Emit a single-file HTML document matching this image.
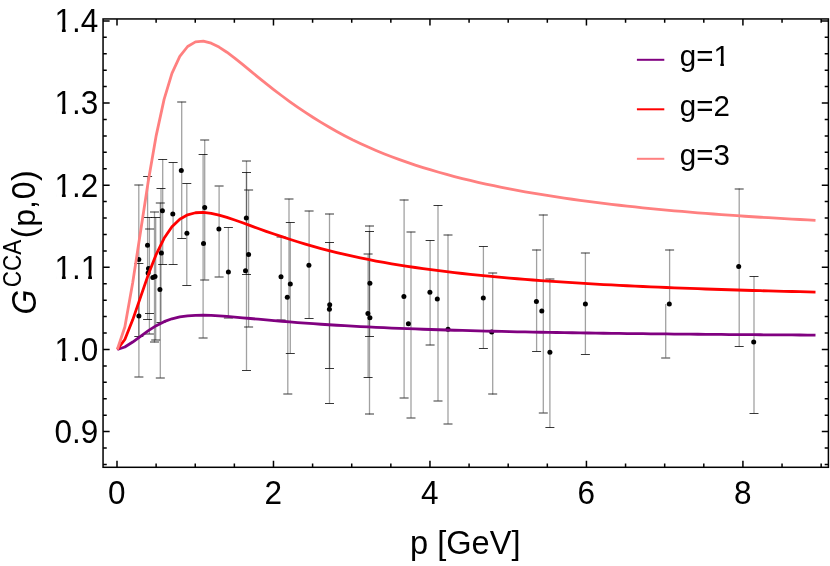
<!DOCTYPE html>
<html><head><meta charset="utf-8"><title>G CCA</title>
<style>
html,body{margin:0;padding:0;background:#fff;}
svg{display:block;}
text{font-family:"Liberation Sans",sans-serif;fill:#000;}
svg{will-change:transform;opacity:0.999;}
</style></head>
<body>
<svg width="830" height="566" viewBox="0 0 830 566">
<rect width="830" height="566" fill="#fff"/>
<g stroke="#000" stroke-width="1" fill="none">
<g stroke-opacity="0.37" stroke-width="1.3"><path d="M138.80,184.80V336.40"/><path d="M138.90,263.40V376.70"/><path d="M147.60,176.50V319.30"/><path d="M149.40,217.40V333.90"/><path d="M154.50,211.70V342.50"/><path d="M155.70,217.40V339.90"/><path d="M160.30,202.80V377.80"/><path d="M161.00,188.30V322.60"/><path d="M162.70,159.30V264.40"/><path d="M173.10,162.40V264.40"/><path d="M181.70,101.70V238.40"/><path d="M186.80,183.50V285.40"/><path d="M203.10,154.50V337.70"/><path d="M204.70,140.00V279.80"/><path d="M219.10,186.50V276.70"/><path d="M228.40,227.30V317.90"/><path d="M246.50,161.00V274.50"/><path d="M246.50,172.60V370.30"/><path d="M248.60,189.90V326.80"/><path d="M281.10,236.90V319.60"/><path d="M289.00,198.80V297.20"/><path d="M287.80,297.20V393.80"/><path d="M290.30,222.50V353.30"/><path d="M309.10,210.80V318.30"/><path d="M329.50,213.70V403.40"/><path d="M329.50,242.60V368.30"/><path d="M369.50,231.50V336.30"/><path d="M368.10,254.50V377.30"/><path d="M369.50,225.50V414.50"/><path d="M404.10,199.50V397.70"/><path d="M411.00,231.70V417.80"/><path d="M430.10,240.20V345.20"/><path d="M438.00,205.30V400.80"/><path d="M448.00,234.60V423.70"/><path d="M483.40,246.40V348.40"/><path d="M492.70,272.80V394.50"/><path d="M536.60,249.50V351.40"/><path d="M543.30,214.60V412.70"/><path d="M549.90,278.80V427.40"/><path d="M585.40,252.80V354.20"/><path d="M669.60,249.50V304.00"/><path d="M665.70,304.00V357.60"/><path d="M739.20,188.60V346.40"/><path d="M754.00,276.30V413.30"/></g>
<path d="M134.30,185.00H143.30M134.40,377.00H143.40M144.90,334.00H153.90M150.00,212.00H159.00M150.00,342.00H159.00M151.20,340.00H160.20M155.80,203.00H164.80M155.80,378.00H164.80M177.20,102.00H186.20M198.60,338.00H207.60M200.20,140.00H209.20M200.20,280.00H209.20M214.60,186.00H223.60M214.60,277.00H223.60M223.90,318.00H232.90M242.00,161.00H251.00M244.10,190.00H253.10M244.10,327.00H253.10M276.60,237.00H285.60M276.60,320.00H285.60M284.50,199.00H293.50M283.30,394.00H292.30M304.60,211.00H313.60M325.00,214.00H334.00M363.60,254.00H372.60M365.00,226.00H374.00M365.00,414.00H374.00M399.60,200.00H408.60M399.60,398.00H408.60M406.50,232.00H415.50M406.50,418.00H415.50M425.60,345.00H434.60M433.50,401.00H442.50M443.50,235.00H452.50M443.50,424.00H452.50M488.20,273.00H497.20M488.20,394.00H497.20M532.10,250.00H541.10M538.80,215.00H547.80M538.80,413.00H547.80M545.40,279.00H554.40M580.90,253.00H589.90M665.10,250.00H674.10M661.20,358.00H670.20M734.70,189.00H743.70M145.10,229.00H154.10" stroke-opacity="0.78"/>
<path d="M134.30,336.50H143.30M134.40,263.50H143.40M143.10,176.50H152.10M143.10,319.50H152.10M151.20,217.50H160.20M156.50,188.50H165.50M156.50,322.50H165.50M158.20,159.50H167.20M158.20,264.50H167.20M168.60,162.50H177.60M168.60,264.50H177.60M177.20,238.50H186.20M182.30,183.50H191.30M182.30,285.50H191.30M198.60,154.50H207.60M223.90,227.50H232.90M242.00,274.50H251.00M242.00,172.50H251.00M242.00,370.50H251.00M285.80,222.50H294.80M285.80,353.50H294.80M304.60,318.50H313.60M325.00,403.50H334.00M325.00,242.50H334.00M325.00,368.50H334.00M365.00,231.50H374.00M365.00,336.50H374.00M363.60,377.50H372.60M425.60,240.50H434.60M433.50,205.50H442.50M478.90,246.50H487.90M478.90,348.50H487.90M532.10,351.50H541.10M545.40,427.50H554.40M580.90,354.50H589.90M734.70,346.50H743.70M749.50,276.50H758.50M749.50,413.50H758.50M143.10,217.50H152.10M145.00,313.50H154.00" stroke-opacity="0.78"/>
</g>
<g fill="#000"><circle cx="138.8" cy="259.5" r="2.5"/><circle cx="138.9" cy="316.1" r="2.5"/><circle cx="147.5" cy="245.2" r="2.5"/><circle cx="148.5" cy="268.5" r="2.5"/><circle cx="148.1" cy="272.9" r="2.5"/><circle cx="152.8" cy="277.4" r="2.5"/><circle cx="155.0" cy="276.4" r="2.5"/><circle cx="159.9" cy="289.6" r="2.5"/><circle cx="161.4" cy="253.1" r="2.5"/><circle cx="162.4" cy="210.7" r="2.5"/><circle cx="172.8" cy="214.1" r="2.5"/><circle cx="181.3" cy="170.6" r="2.5"/><circle cx="186.9" cy="233.3" r="2.5"/><circle cx="204.7" cy="207.5" r="2.5"/><circle cx="203.5" cy="243.5" r="2.5"/><circle cx="218.9" cy="229.1" r="2.5"/><circle cx="228.4" cy="272.1" r="2.5"/><circle cx="246.3" cy="218.1" r="2.5"/><circle cx="248.6" cy="254.6" r="2.5"/><circle cx="245.5" cy="270.7" r="2.5"/><circle cx="281.0" cy="276.7" r="2.5"/><circle cx="290.3" cy="284.1" r="2.5"/><circle cx="287.3" cy="297.2" r="2.5"/><circle cx="308.9" cy="265.2" r="2.5"/><circle cx="329.7" cy="304.7" r="2.5"/><circle cx="329.4" cy="309.2" r="2.5"/><circle cx="369.9" cy="283.2" r="2.5"/><circle cx="367.9" cy="313.6" r="2.5"/><circle cx="369.9" cy="317.7" r="2.5"/><circle cx="403.9" cy="296.4" r="2.5"/><circle cx="408.4" cy="323.7" r="2.5"/><circle cx="429.9" cy="292.2" r="2.5"/><circle cx="437.3" cy="299.1" r="2.5"/><circle cx="448.0" cy="329.2" r="2.5"/><circle cx="483.3" cy="298.1" r="2.5"/><circle cx="491.7" cy="331.9" r="2.5"/><circle cx="536.4" cy="301.4" r="2.5"/><circle cx="541.8" cy="311.1" r="2.5"/><circle cx="549.9" cy="352.2" r="2.5"/><circle cx="585.4" cy="304.1" r="2.5"/><circle cx="669.3" cy="304.1" r="2.5"/><circle cx="738.7" cy="266.6" r="2.5"/><circle cx="753.7" cy="342.1" r="2.5"/></g>
<g fill="none" stroke-width="2.8" stroke-linejoin="round" stroke-linecap="butt">
<path d="M117.30,349.46 L124.85,346.97 L132.70,342.06 L140.54,336.37 L148.39,330.68 L156.24,325.67 L164.09,321.67 L171.94,318.79 L179.79,316.90 L187.63,315.80 L195.48,315.29 L203.33,315.20 L211.18,315.43 L219.03,315.86 L226.88,316.43 L234.72,317.09 L242.57,317.79 L250.42,318.51 L258.27,319.22 L266.12,319.93 L273.97,320.61 L281.81,321.27 L289.66,321.91 L297.51,322.53 L305.36,323.12 L313.21,323.68 L321.06,324.23 L328.90,324.74 L336.75,325.24 L344.60,325.70 L352.45,326.15 L360.30,326.57 L368.15,326.97 L375.99,327.35 L383.84,327.71 L391.69,328.05 L399.54,328.37 L407.39,328.68 L415.24,328.97 L423.08,329.25 L430.93,329.52 L438.78,329.77 L446.63,330.01 L454.48,330.25 L462.33,330.47 L470.17,330.68 L478.02,330.88 L485.87,331.08 L493.72,331.26 L501.57,331.44 L509.42,331.62 L517.26,331.78 L525.11,331.94 L532.96,332.09 L540.81,332.24 L548.66,332.38 L556.51,332.52 L564.35,332.65 L572.20,332.77 L580.05,332.89 L587.90,333.01 L595.75,333.12 L603.60,333.23 L611.44,333.34 L619.29,333.44 L627.14,333.53 L634.99,333.63 L642.84,333.72 L650.69,333.81 L658.53,333.89 L666.38,333.97 L674.23,334.05 L682.08,334.13 L689.93,334.20 L697.78,334.27 L705.62,334.34 L713.47,334.41 L721.32,334.47 L729.17,334.54 L737.02,334.60 L744.87,334.66 L752.71,334.71 L760.56,334.77 L768.41,334.82 L776.26,334.87 L784.11,334.92 L791.96,334.97 L799.80,335.02 L807.65,335.06 L815.50,335.11" stroke="#800080"/>
<path d="M117.30,349.46 L124.85,339.48 L132.70,319.85 L140.54,297.11 L148.39,274.34 L156.24,254.30 L164.09,238.29 L171.94,226.77 L179.79,219.20 L187.63,214.81 L195.48,212.76 L203.33,212.43 L211.18,213.32 L219.03,215.06 L226.88,217.35 L234.72,219.97 L242.57,222.78 L250.42,225.65 L258.27,228.52 L266.12,231.32 L273.97,234.05 L281.81,236.70 L289.66,239.26 L297.51,241.73 L305.36,244.09 L313.21,246.36 L321.06,248.53 L328.90,250.59 L336.75,252.56 L344.60,254.44 L352.45,256.21 L360.30,257.90 L368.15,259.49 L375.99,261.01 L383.84,262.44 L391.69,263.80 L399.54,265.10 L407.39,266.33 L415.24,267.50 L423.08,268.62 L430.93,269.68 L438.78,270.70 L446.63,271.67 L454.48,272.60 L462.33,273.49 L470.17,274.34 L478.02,275.15 L485.87,275.93 L493.72,276.68 L501.57,277.40 L509.42,278.08 L517.26,278.74 L525.11,279.38 L532.96,279.99 L540.81,280.57 L548.66,281.14 L556.51,281.68 L564.35,282.20 L572.20,282.71 L580.05,283.19 L587.90,283.66 L595.75,284.11 L603.60,284.54 L611.44,284.96 L619.29,285.36 L627.14,285.75 L634.99,286.13 L642.84,286.49 L650.69,286.84 L658.53,287.18 L666.38,287.51 L674.23,287.83 L682.08,288.13 L689.93,288.43 L697.78,288.72 L705.62,288.99 L713.47,289.26 L721.32,289.52 L729.17,289.77 L737.02,290.01 L744.87,290.25 L752.71,290.48 L760.56,290.70 L768.41,290.91 L776.26,291.11 L784.11,291.31 L791.96,291.51 L799.80,291.69 L807.65,291.88 L815.50,292.05" stroke="#ff0000"/>
<path d="M117.30,349.46 L124.85,327.01 L132.70,282.83 L140.54,231.67 L148.39,180.44 L156.24,135.35 L164.09,99.33 L171.94,73.40 L179.79,56.38 L187.63,46.50 L195.48,41.89 L203.33,41.14 L211.18,43.15 L219.03,47.06 L226.88,52.21 L234.72,58.11 L242.57,64.43 L250.42,70.90 L258.27,77.34 L266.12,83.65 L273.97,89.80 L281.81,95.76 L289.66,101.52 L297.51,107.06 L305.36,112.38 L313.21,117.48 L321.06,122.36 L328.90,127.01 L336.75,131.44 L344.60,135.65 L352.45,139.66 L360.30,143.45 L368.15,147.04 L375.99,150.44 L383.84,153.67 L391.69,156.73 L399.54,159.64 L407.39,162.41 L415.24,165.05 L423.08,167.57 L430.93,169.96 L438.78,172.25 L446.63,174.44 L454.48,176.53 L462.33,178.52 L470.17,180.44 L478.02,182.27 L485.87,184.02 L493.72,185.70 L501.57,187.32 L509.42,188.86 L517.26,190.35 L525.11,191.78 L532.96,193.15 L540.81,194.47 L548.66,195.74 L556.51,196.96 L564.35,198.13 L572.20,199.26 L580.05,200.35 L587.90,201.40 L595.75,202.42 L603.60,203.39 L611.44,204.34 L619.29,205.24 L627.14,206.12 L634.99,206.97 L642.84,207.79 L650.69,208.58 L658.53,209.34 L666.38,210.08 L674.23,210.79 L682.08,211.48 L689.93,212.14 L697.78,212.79 L705.62,213.41 L713.47,214.01 L721.32,214.59 L729.17,215.16 L737.02,215.70 L744.87,216.23 L752.71,216.74 L760.56,217.24 L768.41,217.72 L776.26,218.18 L784.11,218.63 L791.96,219.07 L799.80,219.49 L807.65,219.90 L815.50,220.29" stroke="#ff8080"/>
</g>
<g stroke="#000" stroke-width="1.5" fill="none"><rect x="103.05" y="18.95" width="725.35" height="448.35"/><path d="M117.00,467.30v-6.6M117.00,18.95v6.6M156.12,467.30v-3.7M156.12,18.95v3.7M195.24,467.30v-3.7M195.24,18.95v3.7M234.36,467.30v-3.7M234.36,18.95v3.7M273.48,467.30v-6.6M273.48,18.95v6.6M312.60,467.30v-3.7M312.60,18.95v3.7M351.72,467.30v-3.7M351.72,18.95v3.7M390.84,467.30v-3.7M390.84,18.95v3.7M429.96,467.30v-6.6M429.96,18.95v6.6M469.08,467.30v-3.7M469.08,18.95v3.7M508.20,467.30v-3.7M508.20,18.95v3.7M547.32,467.30v-3.7M547.32,18.95v3.7M586.44,467.30v-6.6M586.44,18.95v6.6M625.56,467.30v-3.7M625.56,18.95v3.7M664.68,467.30v-3.7M664.68,18.95v3.7M703.80,467.30v-3.7M703.80,18.95v3.7M742.92,467.30v-6.6M742.92,18.95v6.6M782.04,467.30v-3.7M782.04,18.95v3.7M821.16,467.30v-3.7M821.16,18.95v3.7M103.05,464.46h3.7M828.40,464.46h-3.7M103.05,448.03h3.7M828.40,448.03h-3.7M103.05,431.60h6.6M828.40,431.60h-6.6M103.05,415.17h3.7M828.40,415.17h-3.7M103.05,398.74h3.7M828.40,398.74h-3.7M103.05,382.32h3.7M828.40,382.32h-3.7M103.05,365.89h3.7M828.40,365.89h-3.7M103.05,349.46h6.6M828.40,349.46h-6.6M103.05,333.03h3.7M828.40,333.03h-3.7M103.05,316.60h3.7M828.40,316.60h-3.7M103.05,300.18h3.7M828.40,300.18h-3.7M103.05,283.75h3.7M828.40,283.75h-3.7M103.05,267.32h6.6M828.40,267.32h-6.6M103.05,250.89h3.7M828.40,250.89h-3.7M103.05,234.46h3.7M828.40,234.46h-3.7M103.05,218.04h3.7M828.40,218.04h-3.7M103.05,201.61h3.7M828.40,201.61h-3.7M103.05,185.18h6.6M828.40,185.18h-6.6M103.05,168.75h3.7M828.40,168.75h-3.7M103.05,152.32h3.7M828.40,152.32h-3.7M103.05,135.90h3.7M828.40,135.90h-3.7M103.05,119.47h3.7M828.40,119.47h-3.7M103.05,103.04h6.6M828.40,103.04h-6.6M103.05,86.61h3.7M828.40,86.61h-3.7M103.05,70.18h3.7M828.40,70.18h-3.7M103.05,53.76h3.7M828.40,53.76h-3.7M103.05,37.33h3.7M828.40,37.33h-3.7M103.05,20.90h6.6M828.40,20.90h-6.6"/></g>
<g font-size="31.5">
<text transform="translate(98.3,442.9) scale(1,1.03)" text-anchor="end">0.9</text>
<text transform="translate(98.3,360.8) scale(1,1.03)" text-anchor="end">1.0</text>
<text transform="translate(98.3,278.6) scale(1,1.03)" text-anchor="end">1.1</text>
<text transform="translate(98.3,196.5) scale(1,1.03)" text-anchor="end">1.2</text>
<text transform="translate(98.3,114.3) scale(1,1.03)" text-anchor="end">1.3</text>
<text transform="translate(98.3,32.2) scale(1,1.03)" text-anchor="end">1.4</text>
<text transform="translate(116.8,504.2) scale(1,1.03)" text-anchor="middle">0</text>
<text transform="translate(273.3,504.2) scale(1,1.03)" text-anchor="middle">2</text>
<text transform="translate(429.8,504.2) scale(1,1.03)" text-anchor="middle">4</text>
<text transform="translate(586.2,504.2) scale(1,1.03)" text-anchor="middle">6</text>
<text transform="translate(742.7,504.2) scale(1,1.03)" text-anchor="middle">8</text>
<text x="465.3" y="554.2" text-anchor="middle" font-size="32.6">p [GeV]</text>
<text transform="translate(36.2,314.5) rotate(-90) scale(1,1.11)" font-size="32" font-style="italic">G</text>
<text transform="translate(20.7,287.3) rotate(-90) scale(1,1.14)" font-size="22.5">CCA</text>
<text transform="translate(35.1,238.3) rotate(-90) scale(1,1.01)" font-size="32">(</text>
<text transform="translate(35.1,226.8) rotate(-90) scale(1,1.0)" font-size="32">p</text>
<text transform="translate(35.1,208.9) rotate(-90) scale(1,1.0)" font-size="32">,</text>
<text transform="translate(35.1,199.3) rotate(-90) scale(1,1.03)" font-size="32">0</text>
<text transform="translate(35.1,180.9) rotate(-90) scale(1,1.01)" font-size="32">)</text>
</g>
<path d="M636.9,59.8H664.3" stroke="#800080" stroke-opacity="1" stroke-width="2" fill="none"/>
<text x="679.8" y="66.3" font-size="29.5">g=1</text>
<path d="M636.9,109.3H664.3" stroke="#ff0000" stroke-opacity="1" stroke-width="2" fill="none"/>
<text x="679.8" y="115.8" font-size="29.5">g=2</text>
<path d="M636.9,158.8H664.3" stroke="#ff8080" stroke-opacity="1" stroke-width="2" fill="none"/>
<text x="679.8" y="165.3" font-size="29.5">g=3</text>
<rect x="56.09" y="356.70" width="5.83" height="4.66" fill="#fff"/><rect x="65.70" y="356.70" width="5.67" height="4.66" fill="#fff"/>
<rect x="56.09" y="274.56" width="5.83" height="4.66" fill="#fff"/><rect x="65.70" y="274.56" width="5.67" height="4.66" fill="#fff"/>
<rect x="82.36" y="274.56" width="5.83" height="4.66" fill="#fff"/><rect x="91.97" y="274.56" width="5.67" height="4.66" fill="#fff"/>
<rect x="56.09" y="192.42" width="5.83" height="4.66" fill="#fff"/><rect x="65.70" y="192.42" width="5.67" height="4.66" fill="#fff"/>
<rect x="56.09" y="110.28" width="5.83" height="4.66" fill="#fff"/><rect x="65.70" y="110.28" width="5.67" height="4.66" fill="#fff"/>
<rect x="56.09" y="28.14" width="5.83" height="4.66" fill="#fff"/><rect x="65.70" y="28.14" width="5.67" height="4.66" fill="#fff"/>
<rect x="714.90" y="62.61" width="5.46" height="4.29" fill="#fff"/><rect x="723.90" y="62.61" width="5.31" height="4.29" fill="#fff"/>
</svg>
</body></html>
